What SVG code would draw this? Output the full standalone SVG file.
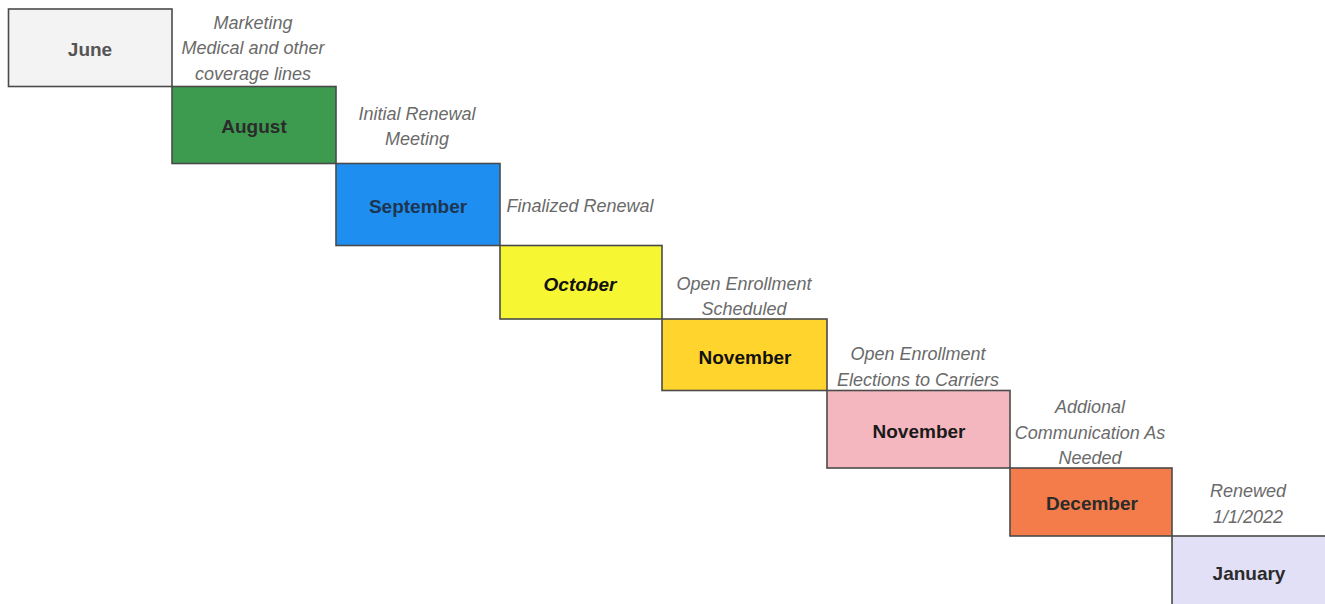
<svg xmlns="http://www.w3.org/2000/svg" width="1325" height="604" viewBox="0 0 1325 604">
<style>
.box{stroke:#4a4a4a;stroke-width:1.6}
.lbl{font-family:"Liberation Sans",Arial,sans-serif;font-weight:bold;font-size:19px;text-anchor:middle;fill:#2b2b2b}
.note{font-family:"Liberation Sans",Arial,sans-serif;font-style:italic;font-size:18px;text-anchor:middle;fill:#6a6a6a}
</style>
<rect x="0" y="0" width="1325" height="604" fill="#ffffff"/>
<g id="june">
<rect class="box" x="8.5" y="9" width="163.5" height="77.5" fill="#f3f3f3"/>
<text class="lbl" x="90" y="55.5" style="fill:#555555">June</text>
</g>
<g id="august">
<rect class="box" x="172" y="86.5" width="164" height="77" fill="#3d9b50"/>
<text class="lbl" x="254" y="132.5">August</text>
</g>
<g id="september">
<rect class="box" x="336" y="163.5" width="164" height="82" fill="#1e8ff0"/>
<text class="lbl" x="418" y="212.5" style="fill:#1e3550">September</text>
</g>
<g id="october">
<rect class="box" x="500" y="245.5" width="162" height="73.5" fill="#f6f632"/>
<text class="lbl" x="580" y="290.5" style="fill:#111111;font-style:italic">October</text>
</g>
<g id="november1">
<rect class="box" x="662" y="319" width="165" height="71.5" fill="#ffd42c"/>
<text class="lbl" x="745" y="363.5" style="fill:#111111">November</text>
</g>
<g id="november2">
<rect class="box" x="827" y="390.5" width="183" height="77.5" fill="#f4b7bf"/>
<text class="lbl" x="919" y="437.5" style="fill:#1a1a1a">November</text>
</g>
<g id="december">
<rect class="box" x="1010" y="468" width="162" height="68" fill="#f47c4a"/>
<text class="lbl" x="1092" y="509.5">December</text>
</g>
<g id="january">
<rect class="box" x="1172" y="536" width="160" height="75" fill="#e2e0f6"/>
<text class="lbl" x="1249" y="579.5">January</text>
</g>
<g id="notes">
<text class="note" x="253" y="29">Marketing</text>
<text class="note" x="253" y="54">Medical and other</text>
<text class="note" x="253" y="80">coverage lines</text>
<text class="note" x="417" y="120">Initial Renewal</text>
<text class="note" x="417" y="145">Meeting</text>
<text class="note" x="580" y="212">Finalized Renewal</text>
<text class="note" x="744" y="290">Open Enrollment</text>
<text class="note" x="744" y="315">Scheduled</text>
<text class="note" x="918" y="360">Open Enrollment</text>
<text class="note" x="918" y="386">Elections to Carriers</text>
<text class="note" x="1090" y="413">Addional</text>
<text class="note" x="1090" y="439">Communication As</text>
<text class="note" x="1090" y="464">Needed</text>
<text class="note" x="1248" y="497">Renewed</text>
<text class="note" x="1248" y="523">1/1/2022</text>
</g>
<g id="connectors"></g>
</svg>
